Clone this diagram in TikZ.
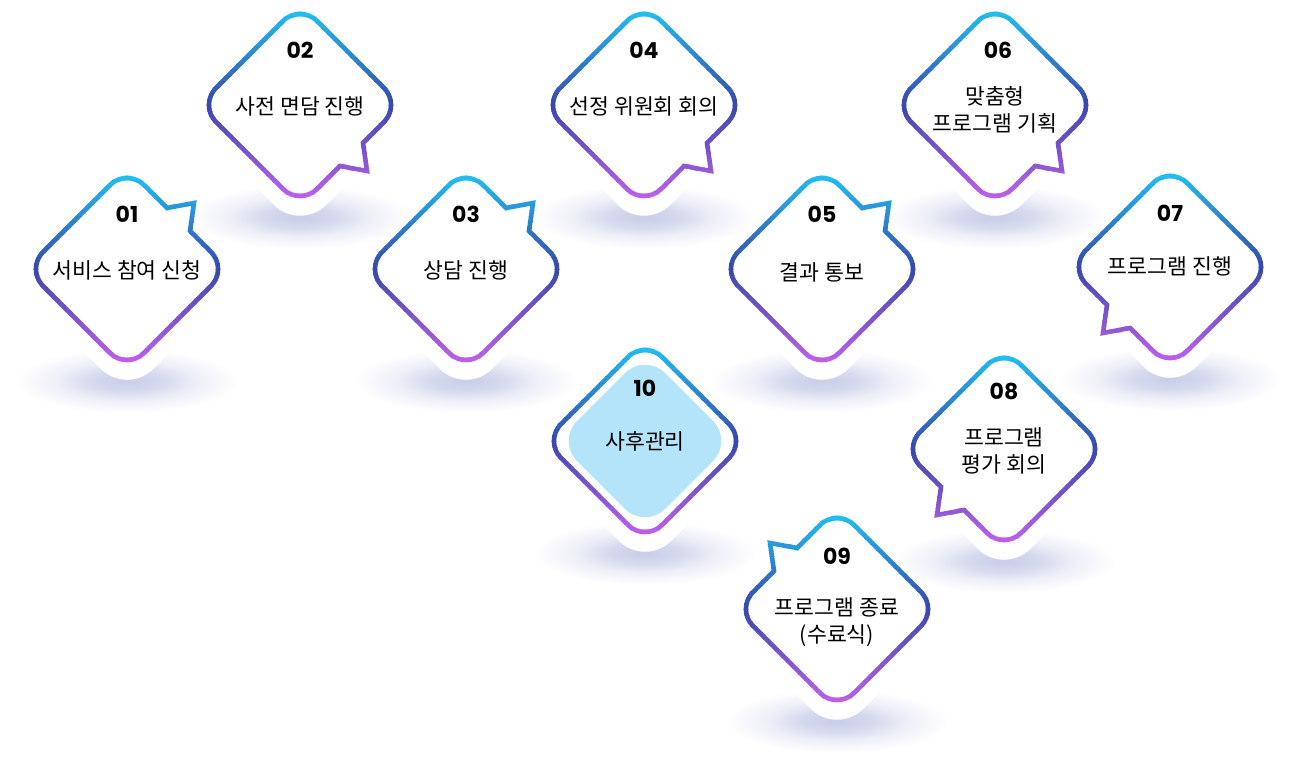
\documentclass[tikz,border=0pt]{standalone}
\usepackage{fontspec}
\setmainfont{Noto Sans CJK KR}
\newfontfamily\numfont{Poppins}
\usepackage{tikz}

\definecolor{ringtop}{RGB}{30,205,248}
\definecolor{ringmid}{RGB}{56,72,172}
\definecolor{ringbot}{RGB}{205,98,242}
\definecolor{shadowc}{RGB}{200,205,232}
\definecolor{careblue}{RGB}{180,228,250}

\pgfdeclareradialshading{softshadow}{\pgfpoint{0bp}{0bp}}{color(0bp)=(shadowc); color(8bp)=(shadowc!75!white); color(16bp)=(shadowc!30!white); color(25bp)=(white); color(50bp)=(white)}

% rounded diamond: centre #1,#2, half diagonal #3, corner cut #4
\newcommand{\diamondpath}[4]{%
  ({#1-#4},{#2-#3+#4}) .. controls ({#1-0.448*#4},{#2-#3+0.448*#4}) and ({#1+0.448*#4},{#2-#3+0.448*#4}) .. ({#1+#4},{#2-#3+#4})
  -- ({#1+#3-#4},{#2-#4}) .. controls ({#1+#3-0.448*#4},{#2-0.448*#4}) and ({#1+#3-0.448*#4},{#2+0.448*#4}) .. ({#1+#3-#4},{#2+#4})
  -- ({#1+#4},{#2+#3-#4}) .. controls ({#1+0.448*#4},{#2+#3-0.448*#4}) and ({#1-0.448*#4},{#2+#3-0.448*#4}) .. ({#1-#4},{#2+#3-#4})
  -- ({#1-#3+#4},{#2+#4}) .. controls ({#1-#3+0.448*#4},{#2+0.448*#4}) and ({#1-#3+0.448*#4},{#2-0.448*#4}) .. ({#1-#3+#4},{#2-#4})
  -- cycle}

% bubble: centre #1,#2, tail side #3,#4, #5=1 with tail
\newcommand{\bubblepath}[5]{%
  ({#1+(#3)*29},{#2+(#4)*72}) -- ({#1+(#3)*40},{#2+(#4)*61})
  -- ({#1+(#3)*(51.5+15.5*#5)},{#2+(#4)*(49.5+16.5*#5)}) -- ({#1+(#3)*63},{#2+(#4)*38})
  -- ({#1+(#3)*84},{#2+(#4)*17}) .. controls ({#1+(#3)*93.4},{#2+(#4)*7.6}) and ({#1+(#3)*93.4},{#2-(#4)*7.6}) .. ({#1+(#3)*84},{#2-(#4)*17})
  -- ({#1+(#3)*17},{#2-(#4)*84}) .. controls ({#1+(#3)*7.6},{#2-(#4)*93.4}) and ({#1-(#3)*7.6},{#2-(#4)*93.4}) .. ({#1-(#3)*17},{#2-(#4)*84})
  -- ({#1-(#3)*84},{#2-(#4)*17}) .. controls ({#1-(#3)*93.4},{#2-(#4)*7.6}) and ({#1-(#3)*93.4},{#2+(#4)*7.6}) .. ({#1-(#3)*84},{#2+(#4)*17})
  -- ({#1-(#3)*17},{#2+(#4)*84}) .. controls ({#1-(#3)*7.6},{#2+(#4)*93.4}) and ({#1+(#3)*7.6},{#2+(#4)*93.4}) .. ({#1+(#3)*17},{#2+(#4)*84})
  -- cycle}

\newcommand{\bubblelist}{127/269/1/-1/1, 300/105/1/1/1, 466/269/1/-1/1, 644/105/1/1/1, 822/269/1/-1/1,
  995/105/1/1/1, 1170/267/-1/1/1, 1004/449/-1/1/1, 837/609/-1/-1/1, 645/441/1/1/0}

\begin{document}
\begin{tikzpicture}[x=0.5pt, y=-0.5pt,
    ring/.style={line width=2.3pt},
    stagenum/.style={font=\numfont\bfseries\fontsize{11}{12}\selectfont, inner sep=0pt},
    stagetext/.style={font=\fontsize{10.8}{13.5}\selectfont, align=center, inner sep=0pt}]
		\fill[white] (0,0) rectangle (1300,780);
		\useasboundingbox (0,0) rectangle (1300,780);
		% shadows
		\foreach \cx/\cy/\sx/\sy/\tl in \bubblelist {
		  \shade[shading=softshadow] ({\cx},{\cy+112}) ellipse (112 and 32);
		}
		% bubbles, ring coloured band by band
		\foreach \cx/\cy/\sx/\sy/\tl in \bubblelist {
		  \fill[white] \diamondpath{\cx}{\cy+20}{106}{26};
		  \fill[white] \bubblepath{\cx}{\cy}{\sx}{\sy}{\tl};
		  \foreach \k in {0,...,35} {
		    \pgfmathtruncatemacro\up{max(0,100-\k*200/35)}
		    \pgfmathtruncatemacro\dn{max(0,\k*200/35-100)}
		    \colorlet{bandc}{ringtop!\up!ringmid}
		    \colorlet{bandc}{ringbot!\dn!bandc}
		    \begin{scope}
		      \clip ({\cx-110},{\cy-106+\k*5.9}) rectangle ({\cx+110},{\cy-106+(\k+1)*5.9+0.6});
		      \draw[ring, bandc] \bubblepath{\cx}{\cy}{\sx}{\sy}{\tl};
		    \end{scope}
		  }
		}
		\fill[careblue] \diamondpath{645}{441}{88}{20};
		% numbers
		\node[stagenum] (n01) at (127,214) {01};
		\node[stagenum] (n02) at (300,50) {02};
		\node[stagenum] (n03) at (466,214) {03};
		\node[stagenum] (n04) at (644,50) {04};
		\node[stagenum] (n05) at (822,214) {05};
		\node[stagenum] (n06) at (998,50) {06};
		\node[stagenum] (n07) at (1170,213) {07};
		\node[stagenum] (n08) at (1004,391) {08};
		\node[stagenum] (n09) at (837,556) {09};
		\node[stagenum] (n10) at (645,388) {10};
		% texts
		\node[stagetext] (t01) at (127,270) {서비스 참여 신청};
		\node[stagetext] (t02) at (300,106) {사전 면담 진행};
		\node[stagetext] (t03) at (466,270) {상담 진행};
		\node[stagetext] (t04) at (644,106) {선정 위원회 회의};
		\node[stagetext] (t05) at (822,272) {결과 통보};
		\node[stagetext] (t06) at (995,110) {맞춤형\\프로그램 기획};
		\node[stagetext] (t07) at (1170,266) {프로그램 진행};
		\node[stagetext] (t08) at (1004,451) {프로그램\\평가 회의};
		\node[stagetext] (t09) at (837,622) {프로그램 종료\\(수료식)};
		\node[stagetext] (t10) at (645,441) {사후관리};
\end{tikzpicture}
\end{document}
